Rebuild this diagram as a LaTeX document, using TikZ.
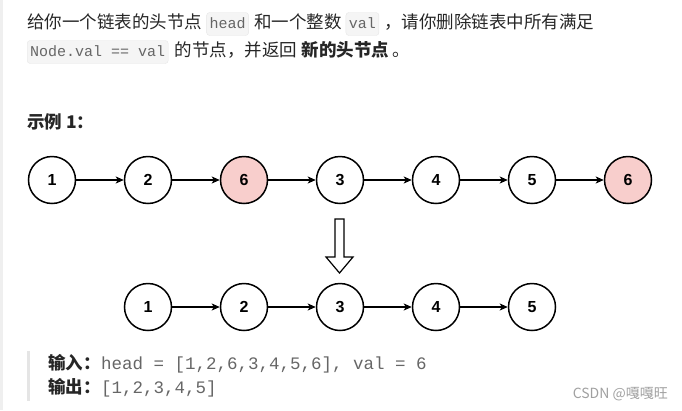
\documentclass[tikz,border=0pt]{standalone}
\usepackage{fontspec}
\setmainfont{Noto Sans CJK SC}
\newfontfamily\digitFont{Liberation Sans}
\newfontfamily\codeFont{Liberation Mono}
\usetikzlibrary{positioning,arrows.meta}
\tikzstyle{pixel} = [x = 1pt, y = -1pt]
\definecolor{textColor}{RGB}{38,38,38}
\definecolor{codeColor}{RGB}{102,102,102}
\definecolor{codeBack}{RGB}{245,245,245}
\definecolor{codeEdge}{RGB}{230,230,230}
\definecolor{removedColor}{RGB}{248,206,204}
\definecolor{barColor}{RGB}{229,229,229}
\definecolor{markColor}{RGB}{160,160,160}
\tikzstyle{listNode} = [circle, draw=black, fill=white, line width=1.5pt, minimum size=47pt, inner sep=0pt, font=\digitFont\bfseries\fontsize{16}{16}\selectfont]
\tikzstyle{removedNode} = [listNode, fill=removedColor]
\tikzstyle{linkArrow} = [-{Stealth[length=8pt, width=7pt, inset=2pt]}, line width=1.2pt]
\tikzstyle{plainText} = [inner sep=0pt, anchor=base west, text=textColor, font=\fontsize{17.5}{20}\selectfont]
\tikzstyle{boldText} = [plainText, font=\fontsize{17.5}{20}\selectfont\bfseries]
\tikzstyle{codeBox} = [anchor=base west, fill=codeBack, draw=codeEdge, rounded corners=3pt, inner xsep=3pt, inner ysep=4pt, text height=12pt, text depth=3pt, text=codeColor, font=\codeFont\fontsize{15}{15}\selectfont]
\tikzstyle{codeText} = [inner sep=0pt, anchor=base west, text=codeColor, font=\codeFont\fontsize{17.5}{20}\selectfont]

\begin{document}
\begin{tikzpicture}[pixel]
  \useasboundingbox (0,0) rectangle (682,410);
  \fill [barColor!60] (0,0) rectangle (2.5,410);

  % problem statement
  \node [plainText] (lineA) at (27,28.5) {给你一个链表的头节点};
  \node [codeBox] (head) at ([xshift=4pt]lineA.base east) {head};
  \node [plainText] (lineB) at ([xshift=5pt]head.base east) {和一个整数};
  \node [codeBox] (val) at ([xshift=4pt]lineB.base east) {val};
  \node [plainText] (lineC) at ([xshift=5pt]val.base east) {，请你删除链表中所有满足};
  \node [codeBox] (cond) at (27,56.5) {Node.val == val};
  \node [plainText] (lineD) at ([xshift=6pt]cond.base east) {的节点，并返回};
  \node [boldText] (newHead) at ([xshift=4pt]lineD.base east) {新的头节点};
  \node [plainText] (stop) at ([xshift=3pt]newHead.base east) {。};

  \node [boldText] (example) at (27,128.5) {示例 1：};

  % input list
  \foreach \val/\kind [count=\i] in {1/listNode,2/listNode,6/removedNode,3/listNode,4/listNode,5/listNode,6/removedNode} {
    \node [\kind] (a\i) at ({52+96*(\i-1)},180) {\val};
  }
  \foreach \i/\j in {1/2,2/3,3/4,4/5,5/6,6/7} {
    \draw [linkArrow] (a\i) -- (a\j);
  }

  % hollow arrow
  \draw [line width=1.2pt, fill=white] (335,219) -- (344,219) -- (344,257) -- (353,257) -- (339.5,273) -- (326,257) -- (335,257) -- cycle;

  % result list
  \foreach \val [count=\i] in {1,2,3,4,5} {
    \node [listNode] (b\i) at ({148+96*(\i-1)},307) {\val};
  }
  \foreach \i/\j in {1/2,2/3,3/4,4/5} {
    \draw [linkArrow] (b\i) -- (b\j);
  }

  % input and output
  \fill [barColor] (27,351) rectangle (29.5,401);
  \node [boldText] (inLabel) at (48,369) {输入：};
  \node [codeText] (inValue) at (inLabel.base east) {head = [1,2,6,3,4,5,6], val = 6};
  \node [boldText] (outLabel) at (48,393) {输出：};
  \node [codeText] (outValue) at (outLabel.base east) {[1,2,3,4,5]};

  \node [inner sep=0pt, anchor=base east, text=markColor, font=\fontsize{14}{14}\selectfont] (mark) at (668,398) {CSDN @嘎嘎旺};
\end{tikzpicture}
\end{document}
